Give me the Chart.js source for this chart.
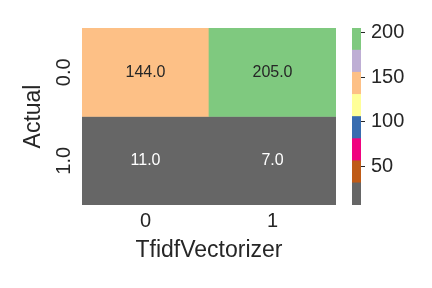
<!DOCTYPE html>
<html>
<head>
<meta charset="utf-8">
<script src="https://cdn.jsdelivr.net/npm/chart.js@4"></script>
<style>
  body { margin: 0; background: #fff; width: 432px; height: 288px; position: relative; overflow: hidden; }
  #heat { position: absolute; left: 0; top: 0; }
  #bar { position: absolute; left: 340px; top: 0; }
</style>
</head>
<body>
<canvas id="heat" width="340" height="288"></canvas>
<canvas id="bar" width="92" height="288"></canvas>
<script>
const rowLabels = ['0.0', '1.0'];
const colLabels = ['0', '1'];
const cellValues = [
    [144, 205],
    [11, 7]
];
const barTicks = [50, 100, 150, 200];
// Accent_r, low to high
const palette = ['#666666', '#bf5b17', '#f0027f', '#386cb0', '#ffff99', '#fdc086', '#beaed4', '#7fc97f'];

const textDark = '#262626';
const fontName = "'Liberation Sans', Arial, sans-serif";
const vmin = Math.min(...cellValues.flat());
const vmax = Math.max(...cellValues.flat());

Chart.defaults.font.family = fontName;
Chart.defaults.color = textDark;

function colorFor(v) {
    let i = Math.floor((v - vmin) / (vmax - vmin) * palette.length);
    if (i >= palette.length) i = palette.length - 1;
    return palette[i];
}

function isLight(hex) {
    const c = [1, 3, 5].map(k => parseInt(hex.substr(k, 2), 16) / 255)
        .map(x => x <= 0.03928 ? x / 12.92 : Math.pow((x + 0.055) / 1.055, 2.4));
    return 0.2126 * c[0] + 0.7152 * c[1] + 0.0722 * c[2] > 0.408;
}

const annotate = {
    id: 'annotate',
    afterDatasetsDraw(chart) {
        const ctx = chart.ctx;
        ctx.save();
        ctx.font = '16px ' + fontName;
        ctx.textAlign = 'center';
        ctx.textBaseline = 'middle';
        chart.data.datasets.forEach((ds, i) => {
            chart.getDatasetMeta(i).data.forEach((el, j) => {
                const p = el.getCenterPoint();
                ctx.fillStyle = isLight(colorFor(cellValues[i][j])) ? textDark : '#ffffff';
                ctx.fillText(cellValues[i][j].toFixed(1), p.x, p.y);
            });
        });
        ctx.restore();
    }
};

new Chart(document.getElementById('heat'), {
    type: 'bar',
    data: {
        labels: colLabels,
        datasets: rowLabels.map((r, i) => ({
            label: r,
            data: colLabels.map(() => [i, i + 1]),
            backgroundColor: cellValues[i].map(colorFor),
            borderWidth: 0,
            barPercentage: 1,
            categoryPercentage: 1,
            grouped: false
        }))
    },
    options: {
        responsive: false,
        animation: false,
        events: [],
        layout: { padding: { left: 0, top: 28, right: 4, bottom: 0 } },
        plugins: { legend: { display: false }, tooltip: { enabled: false } },
        scales: {
            x: {
                grid: { display: false, drawTicks: false },
                border: { display: false },
                ticks: { font: { size: 20 }, padding: 4 },
                title: { display: true, text: 'TfidfVectorizer', font: { size: 23 }, padding: { top: 0, bottom: 24 } },
                afterFit(scale) { scale.height = 83; }
            },
            y: {
                min: 0,
                max: 2,
                reverse: true,
                grid: { display: false, drawTicks: false },
                border: { display: false },
                afterBuildTicks(scale) { scale.ticks = rowLabels.map((r, i) => ({ value: i + 0.5 })); },
                ticks: {
                    font: { size: 20 },
                    minRotation: 90,
                    maxRotation: 90,
                    crossAlign: 'center',
                    padding: 4,
                    callback: (v, i) => rowLabels[i]
                },
                title: { display: true, text: 'Actual', font: { size: 23 }, padding: { top: 20, bottom: 0 } },
                afterFit(scale) { scale.width = 82; }
            }
        }
    },
    plugins: [annotate]
});

// colour bar
const step = (vmax - vmin) / palette.length;
new Chart(document.getElementById('bar'), {
    type: 'bar',
    data: {
        labels: [''],
        datasets: palette.map((c, i) => ({
            data: [[vmin + i * step, vmin + (i + 1) * step]],
            backgroundColor: c,
            borderWidth: 0,
            barPercentage: 1,
            categoryPercentage: 1,
            grouped: false
        }))
    },
    options: {
        responsive: false,
        animation: false,
        events: [],
        layout: { padding: { left: 12, top: 28, right: 0, bottom: 83 } },
        plugins: { legend: { display: false }, tooltip: { enabled: false } },
        scales: {
            x: { display: false },
            y: {
                position: 'right',
                min: vmin,
                max: vmax,
                afterBuildTicks(scale) { scale.ticks = barTicks.map(v => ({ value: v })); },
                grid: { drawOnChartArea: false, drawTicks: true, tickLength: 4, tickColor: textDark, tickWidth: 1 },
                border: { display: false },
                ticks: { font: { size: 20 }, padding: 6 },
                afterFit(scale) { scale.width = 71; }
            }
        }
    }
});
</script>
</body>
</html>
